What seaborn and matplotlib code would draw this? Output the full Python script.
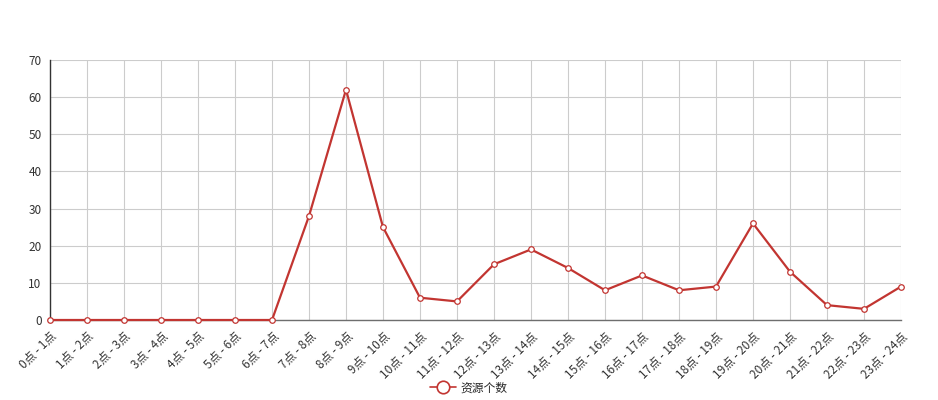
import numpy as np
import pandas as pd
import matplotlib
matplotlib.use("Agg")
import matplotlib.pyplot as plt
from matplotlib.lines import Line2D
import seaborn as sns

# data
hours = [f"{h}点 - {h + 1}点" for h in range(24)]
counts = [0, 0, 0, 0, 0, 0, 0, 28, 62, 25, 6, 5, 15, 19, 14, 8, 12, 8, 9, 26, 13, 4, 3, 9]
series_name = "资源个数"

sns.set_style("white")
plt.rcParams['font.family'] = ['Noto Sans CJK SC', 'DejaVu Sans']

red = "#c23531"
df = pd.DataFrame({"hour": hours, "count": counts})
df["pos"] = np.arange(len(hours))

fig = plt.figure(figsize=(9.38, 4.0), dpi=100)
ax = fig.add_axes([50 / 938, 80 / 400, 851 / 938, 260 / 400])

sns.lineplot(data=df, x="pos", y="count", ax=ax, color=red, linewidth=1.6,
             marker="o", markersize=4, markerfacecolor="white",
             markeredgecolor=red, markeredgewidth=0.9, clip_on=False, zorder=3)

ax.set_xlim(0, len(hours) - 1)
ax.set_ylim(0, 70)
ax.set_yticks(range(0, 71, 10))
ax.set_xticks(df["pos"])
ax.set_xticklabels(hours, rotation=45, ha="right", rotation_mode="anchor")
ax.set_xlabel("")
ax.set_ylabel("")

ax.grid(True, color="#cccccc", linewidth=0.8)
ax.set_axisbelow(True)
for side in ["top", "right"]:
    ax.spines[side].set_visible(False)
ax.spines["left"].set_color("#333333")
ax.spines["left"].set_linewidth(1)
ax.spines["bottom"].set_color("#6e6e6e")
ax.spines["bottom"].set_linewidth(1)
ax.spines["bottom"].set_zorder(2)

ax.tick_params(axis="y", length=4, width=0.8, color="#333333", labelsize=8.5,
               labelcolor="#333333", pad=2)
ax.tick_params(axis="x", length=4, width=0.8, color="#6e6e6e", labelsize=8.5,
               labelcolor="#333333", pad=3)

handle = Line2D([0], [0], color=red, linewidth=1.2, marker="o", markersize=9,
                markerfacecolor="white", markeredgecolor=red, markeredgewidth=1.2)
fig.legend([handle], [series_name], loc="center", bbox_to_anchor=(0.5, 12 / 400),
           frameon=False, fontsize=8.5, handlelength=2.2, handletextpad=0.4)

fig.savefig("out.png", dpi=100, facecolor="white")
